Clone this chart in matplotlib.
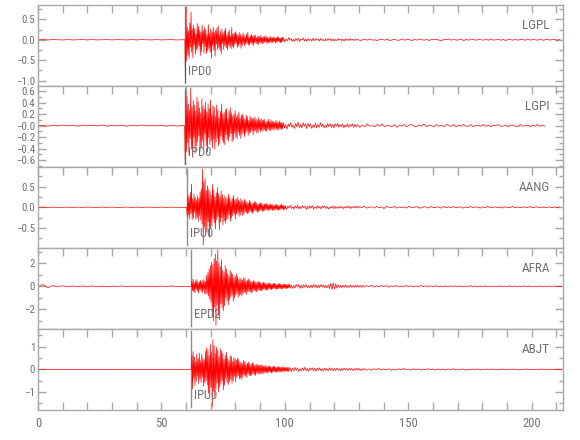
import numpy as np
import matplotlib
matplotlib.use('Agg')
import matplotlib.pyplot as plt
import matplotlib.font_manager as fm
from matplotlib.ticker import MultipleLocator, FixedLocator

# ---------- pick a narrow sans font if one is installed ----------
_names = {f.name for f in fm.fontManager.ttflist}
FONT, STRETCH, NARROW = 'DejaVu Sans', 'normal', False
for cand in ['Liberation Sans Narrow', 'Roboto Condensed', 'Open Sans Condensed',
             'DejaVu Sans Condensed', 'Noto Sans Condensed']:
    if cand in _names:
        FONT, NARROW = cand, True
        break
if not NARROW:
    for f in fm.fontManager.ttflist:
        if str(f.stretch) in ('condensed', 'semi-condensed', 'extra-condensed') and \
                f.name in ('DejaVu Sans', 'Noto Sans', 'Open Sans', 'Roboto', 'Liberation Sans'):
            FONT, STRETCH, NARROW = f.name, str(f.stretch), True
            break
plt.rcParams['font.family'] = [FONT, 'DejaVu Sans']
plt.rcParams['font.stretch'] = STRETCH
SZ = 1.0 if NARROW else 0.86

stations = ['LGPL', 'LGPI', 'AANG', 'AFRA', 'ABJT']
pick_times = [59.5, 59.4, 60.2, 62.1, 62.1]
pick_labels = ['IPD0', 'IPD0', 'IPU0', 'EPD2', 'IPU0']

# sample spacing (s) of each stored segment
PRE_DT, FINE_DT, MID_DT, TAIL_DT = 2.0, 0.25, 0.5, 1.0
FINE_LEN, MID_LEN = 40.0, 30.0
SCALE = 0.01  # values stored in hundredths

# ---------------- LGPL ----------------
pre_lgpl = [0, 0.5, -0.5, 0.5, 0, -0.5, 0.5, -0.5, 0, 0.5, -0.5, 0.5, -0.5, 0, 0.5,
            -0.5, 0.5, 0, -0.5, 0.5, -0.5, 0.5, 0, -0.5, 0.5, -0.5, 0, 0.5, -0.5, 0]
fine_lgpl = [0, -105, 80, -52, 30, -38, 22, -45, 41, -18, 68, -30, 26, -44, 35, -12,
             28, -36, 14, -25, 40, -21, 33, -15, 24, -38, 19, -29, 36, -10, 22, -33,
             30, -17, 25, -34, 12, -28, 37, -22, 16, -30, 27, -45, 20, -14, 31, -26,
             18, -40, 24, -11, 29, -23, 34, -19, 13, -27, 21, -35, 26, -9, 17, -24,
             22, -15, 28, -20, 11, -25, 19, -13, 24, -18, 9, -22, 30, -16, 14, -21,
             17, -12, 20, -8, 15, -19, 11, -16, 18, -10, 13, -21, 8, -14, 16, -9,
             12, -15, 7, -11, 14, -9, 18, -13, 6, -12, 10, -8, 13, -11, 9, -14,
             11, -7, 12, -9, 5, -10, 8, -12, 9, -6, 11, -8, 7, -10, 6, -9,
             8, -6, 10, -5, 7, -9, 6, -8, 4, -7, 9, -5, 6, -8, 5, -7,
             7, -4, 6, -8, 5, -6, 8, -4, 6, -5, 4, -7, 5, -6, 7, -4]
mid_lgpl = [4, -5, 2, -3, 5, -1, 3, -4, 1, -3, 4, -2, 3, -4, 2, -1, 4, -3, 2, -4,
            3, -2, 1, -3, 4, -2, 3, -1, 2, -3, 3, -2, 1, -3, 2, -2, 3, -1, 2, -3,
            2, -3, 1, -2, 3, -1, 2, -2, 1, -3, 2, -1, 2, -2, 3, -1, 1, -2, 2, -1]
tail_lgpl = [1, -2, 0, 1, -1, 2, -1, 0, -2, 1, 1, -1, 2, -2, 0, 1, -1, -1, 2, -1,
             1, 0, -2, 1, -1, 2, 0, -1, 1, -2, 1, 0, 1, -1, -2, 1, 0, 2, -1, 1,
             -1, 0, 1, -2, 1, -1, 2, 0, -1, 1, 0, -1, 1, -1, 2, -1, 0, 1, -1, 1,
             -2, 1, 0, -1, 1, -1, 1, 0, -1, 2, -1, 1, 0, -1, 1, -1, 0, 1, -1, 1,
             0, -1, 1]

# ---------------- LGPI ----------------
pre_lgpi = [0, 0.5, -1, 0.5, -0.5, 1, -0.5, 0.5, -1, 1, -0.5, 0.5, -0.5, 1, -1,
            0.5, -0.5, 0.5, -1, 0.5, -0.5, 1, -0.5, 0.5, -0.5, 0.5, -1, 0.5, -0.5, 0]
fine_lgpi = [0, -68, 60, -45, 52, -30, 38, -50, 27, -22, 66, -41, 33, -55, 44, -20,
             36, -48, 25, -35, 50, -28, 42, -18, 31, -44, 22, -38, 47, -26, 34, -40,
             29, -15, 41, -36, 24, -46, 38, -21, 30, -33, 45, -27, 19, -39, 35, -24,
             32, -41, 17, -29, 36, -22, 27, -35, 14, -31, 25, -18, 38, -26, 20, -30,
             23, -33, 28, -16, 30, -24, 12, -27, 26, -19, 31, -14, 22, -28, 17, -25,
             21, -13, 26, -20, 15, -23, 19, -11, 24, -17, 13, -22, 18, -15, 20, -12,
             16, -19, 11, -14, 18, -10, 15, -17, 9, -13, 17, -12, 14, -9, 12, -16,
             13, -10, 15, -8, 11, -13, 9, -12, 14, -7, 10, -11, 12, -8, 9, -10,
             10, -7, 11, -9, 6, -10, 8, -6, 11, -8, 7, -9, 10, -6, 8, -7,
             7, -8, 6, -5, 9, -6, 7, -8, 5, -7, 8, -5, 6, -7, 5, -6]
mid_lgpi = [5, -4, 2, -6, 3, -2, 5, -3, 1, -5, 4, -2, 6, -3, 2, -4, 5, -1, 3, -5,
            4, -2, 3, -5, 1, -3, 4, -4, 2, -3, 5, -2, 3, -4, 1, -3, 4, -2, 3, -3,
            2, -4, 3, -1, 4, -3, 2, -2, 3, -4, 1, -2, 3, -3, 2, -1, 3, -3, 2, -2]
tail_lgpi = [2, -3, 1, -2, 3, -1, 0, -2, 2, -1, 3, -2, 1, 0, -2, 2, -3, 1, -1, 2,
             -2, 1, 2, -1, -2, 1, -1, 3, -2, 1, 0, -2, 2, -1, 1, -2, 2, 0, -1, 2,
             -2, 1, -1, 2, -1, -1, 2, -2, 1, 0, -1, 2, -1, 1, -2, 1, 0, 2, -1, -1,
             1, -2, 1, 1, -1, -2, 2, -1, 0, 1, -2, 1, -1, 2, -1, 1, -1]

# ---------------- AANG ----------------
pre_aang = [0, 0.5, -0.5, 0.5, -0.5, 0, 0.5, -0.5, 0.5, -0.5, 0.5, 0, -0.5, 0.5,
            -0.5, 0.5, -0.5, 0, 0.5, -0.5, 0.5, -0.5, 0.5, 0, -0.5, 0.5, -0.5, 0.5, -0.5, 0]
fine_aang = [0, -22, 30, -18, 25, -28, 35, -15, 56, -30, 20, -26, 32, -12, 24, -29,
             18, -25, 28, -34, 22, -20, 38, -30, 45, -40, 92, -91, 62, -48, 70, -55,
             40, -60, 52, -35, 44, -72, 38, -50, 30, -45, 55, -28, 42, -38, 25, -52,
             35, -30, 48, -22, 33, -55, 27, -36, 40, -25, 30, -42, 21, -33, 28, -38,
             24, -30, 19, -27, 32, -18, 25, -34, 15, -26, 22, -20, 28, -16, 18, -29,
             20, -17, 24, -13, 18, -22, 15, -19, 21, -12, 16, -20, 13, -17, 19, -11,
             15, -13, 12, -16, 10, -14, 17, -9, 13, -12, 8, -15, 11, -10, 14, -8,
             12, -9, 10, -12, 7, -11, 9, -8, 11, -7, 10, -9, 6, -10, 8, -7,
             8, -7, 9, -5, 7, -8, 6, -7, 8, -5, 6, -8, 7, -6, 5, -7,
             6, -5, 7, -6, 5, -7, 4, -6, 6, -5, 7, -4, 5, -6, 4, -5]
mid_aang = [4, -5, 3, -2, 5, -3, 1, -4, 3, -2, 5, -4, 2, -3, 4, -1, 3, -5, 2, -3,
            4, -2, 3, -4, 1, -3, 4, -2, 2, -4, 3, -1, 3, -3, 2, -4, 1, -2, 3, -3,
            2, -3, 1, -2, 3, -2, 2, -3, 1, -2, 3, -1, 2, -3, 2, -1, 2, -2, 3, -2]
tail_aang = [2, -1, 3, -2, 0, 1, -2, 2, -1, 1, -3, 2, 0, -1, 2, -2, 1, -1, 1, -2,
             2, 0, -1, 2, -1, -2, 1, 1, -2, 2, -1, 0, 1, -2, 2, -1, 1, -1, 2, -1,
             0, 1, -2, 1, -1, 2, -1, 1, 0, -2, 1, -1, 2, -1, 0, 1, -1, 1, -2, 1,
             0, -1, 2, -1, 1, -1, 0, 1, -1, 2, -1, 0, 1, -1, 1, -1, 0, 1, -1, 1,
             -1, 1]

# ---------------- AFRA ----------------
pre_afra = [0, 15, -12, 6, -5, 4, -4, 3, -3, 3, -2, 3, -2, 2, -3, 2, -2, 3, -2, 2,
            -2, 2, -3, 2, -2, 2, -2, 3, -2, 0]
fine_afra = [0, 45, -38, 62, -50, 30, -55, 48, -25, 58, -42, 35, -60, 40, -30, 52,
             -45, 38, -55, 60, -32, 48, -65, 42, -70, 95, -60, 120, -85, 150, -110, 180,
             -140, 210, -260, 190, -300, 240, -180, 280, -340, 220, -160, 320, -250, 200, -290, 170,
             -150, 230, -190, 140, -210, 120, -170, 180, -100, 150, -130, 110, -160, 90, -120, 140,
             -95, 120, -80, 105, -130, 70, -100, 90, -75, 110, -65, 85, -95, 60, -80, 75,
             -70, 60, -85, 55, -65, 75, -50, 68, -58, 45, -72, 52, -48, 63, -40, 55,
             -50, 42, -58, 38, -45, 50, -35, 44, -40, 36, -48, 30, -38, 42, -32, 40,
             -36, 30, -40, 28, -33, 35, -25, 32, -30, 26, -34, 22, -28, 30, -24, 27,
             -26, 22, -30, 20, -24, 27, -18, 25, -22, 19, -26, 17, -23, 21, -19, 24,
             -20, 18, -23, 16, -21, 19, -15, 20, -18, 14, -21, 16, -17, 19, -14, 18]
mid_afra = [-16, 12, -19, 8, -14, 17, -6, 13, -18, 10, -15, 14, -9, 16, -12, 7, -15, 11, -13, 17,
            -8, 14, -16, 10, -12, 15, -7, 13, -11, 9, -14, 12, -20, 24, -28, 30, -25, 22, -17, 13,
            -12, 9, -14, 10, -8, 12, -11, 7, -10, 11, -9, 6, -10, 9, -7, 10, -8, 6, -9, 8]
tail_afra = [-8, 6, -3, 9, -7, 4, -5, 8, -2, 6, -8, 5, -4, 7, -6, 2, -5, 7, -4, 6,
             -7, 3, -5, 6, -2, 5, -6, 4, -3, 6, -5, 2, -4, 5, -6, 3, -2, 5, -4, 4,
             -5, 2, -4, 6, -3, 4, -5, 3, -2, 4, -4, 3, -5, 2, -3, 4, -4, 2, -3, 5,
             -3, 3, -4, 2, -3, 4, -2, 3, -4, 1, -3, 4, -3, 2, -3, 3, -2, 3, -3, 2,
             -3]

# ---------------- ABJT ----------------
pre_abjt = [0, 0.5, -0.5, 0.5, -0.5, 0.5, 0, -0.5, 0.5, -0.5, 0.5, -0.5, 0, 0.5,
            -0.5, 0.5, -0.5, 0.5, 0, -0.5, 0.5, -0.5, 0.5, -0.5, 0, 0.5, -0.5, 0.5, -0.5, 0]
fine_abjt = [0, 62, -85, 78, -40, 55, -70, 35, -52, 68, -30, 48, -62, 72, -45, 38,
             -58, 66, -35, 50, -74, 42, -60, 80, -50, 95, -70, 88, -105, 60, -92, 110,
             -80, 75, -165, 132, -95, 105, -120, 70, -88, 98, -60, 85, -100, 55, -78, 92,
             -65, 80, -50, 72, -90, 45, -70, 62, -40, 75, -58, 48, -66, 38, -55, 60,
             -45, 58, -62, 35, -50, 52, -30, 46, -55, 40, -36, 50, -28, 44, -42, 33,
             -38, 30, -44, 26, -33, 40, -24, 35, -30, 22, -36, 28, -20, 32, -27, 25,
             -29, 22, -26, 30, -19, 25, -23, 18, -27, 21, -16, 24, -20, 17, -22, 19,
             -18, 21, -15, 19, -20, 14, -17, 16, -13, 18, -15, 12, -17, 14, -11, 16,
             -14, 12, -16, 11, -13, 15, -10, 13, -12, 9, -14, 11, -9, 13, -11, 10,
             -12, 9, -10, 12, -8, 11, -10, 8, -11, 9, -7, 10, -9, 8, -10, 7]
mid_abjt = [8, -10, 5, -7, 9, -4, 6, -9, 3, -8, 7, -5, 9, -6, 4, -8, 6, -3, 7, -7,
            5, -8, 6, -4, 7, -6, 3, -7, 6, -5, 4, -6, 7, -3, 5, -6, 4, -5, 6, -4,
            3, -6, 5, -4, 6, -3, 4, -5, 5, -2, 4, -5, 3, -4, 5, -3, 4, -4, 3, -4]
tail_abjt = [4, -3, 2, -4, 3, -1, 4, -3, 2, -2, 3, -4, 1, -3, 3, -2, 4, -2, 1, -3,
             3, -2, 2, -3, 1, -2, 3, -1, 2, -3, 2, -2, 1, -3, 2, -1, 3, -2, 1, -2,
             2, -3, 1, -2, 2, -1, 2, -2, 1, -2, 2, -1, 2, -2, 0, -1, 2, -2, 1, -1,
             2, -1, 1, -2, 1, -1, 2, -1, 0, -2, 1, -1, 2, -1, 1, -1, 1, -2, 1, -1,
             1]

pres = [pre_lgpl, pre_lgpi, pre_aang, pre_afra, pre_abjt]
fines = [fine_lgpl, fine_lgpi, fine_aang, fine_afra, fine_abjt]
mids = [mid_lgpl, mid_lgpi, mid_aang, mid_afra, mid_abjt]
tails = [tail_lgpl, tail_lgpi, tail_aang, tail_afra, tail_abjt]

ylims = [(-1.13, 0.85), (-0.72, 0.69), (-0.98, 0.97), (-3.71, 3.33), (-1.79, 1.78)]
yminor = [0.25, 0.1, 0.25, 1.0, 0.5]
ytick_vals = [[-1.0, -0.5, 0.0, 0.5],
              [-0.6, -0.4, -0.2, 0.0, 0.2, 0.4, 0.6],
              [-0.5, 0.0, 0.5],
              [-2, 0, 2],
              [-1, 0, 1]]
ytick_text = [['\u22121.0', '\u22120.5', '0.0', '0.5'],
              ['\u22120.6', '\u22120.4', '\u22120.2', '\u22120.0', '0.2', '0.4', '0.6'],
              ['\u22120.5', '0.0', '0.5'],
              ['\u22122', '0', '2'],
              ['\u22121', '0', '1']]
xtick_vals = [0, 50, 100, 150, 200]

XMAX = 212.7
TEXT_C = '#707070'
SPINE_C = '#a8a8a8'
TRACE_C = '#ff0000'
PICK_C = '#8c8c8c'

fig = plt.figure(figsize=(5.8, 4.4), dpi=100)
left, right = 38 / 580, 563 / 580
top_px, h_px = 5, 81

for i in range(5):
    y0 = 1 - (top_px + h_px * (i + 1)) / 440
    ax = fig.add_axes([left, y0, right - left, h_px / 440])
    p = pick_times[i]
    segs = [np.array(pres[i], float), np.array(fines[i], float),
            np.array(mids[i], float), np.array(tails[i], float)]
    t = np.concatenate([np.arange(len(segs[0])) * PRE_DT,
                        p + np.arange(len(segs[1])) * FINE_DT,
                        p + FINE_LEN + np.arange(len(segs[2])) * MID_DT,
                        p + FINE_LEN + MID_LEN + np.arange(len(segs[3])) * TAIL_DT])
    y = np.concatenate(segs) * SCALE
    ax.axvline(p, ymin=0.04, ymax=0.97, color=PICK_C, lw=1.0, zorder=1)
    ax.plot(t, y, color=TRACE_C, lw=0.5, zorder=2)
    ax.set_xlim(0, XMAX)
    ax.set_ylim(*ylims[i])

    ax.text(0.975, 0.75, stations[i], transform=ax.transAxes, ha='right',
            va='center', fontsize=9.5 * SZ, color=TEXT_C)
    ax.text(p + 1.3, ylims[i][0] + 0.18 * (ylims[i][1] - ylims[i][0]),
            pick_labels[i], ha='left', va='center', fontsize=9 * SZ, color=TEXT_C)

    for s in ax.spines.values():
        s.set_color(SPINE_C)
        s.set_linewidth(1.0)

    ax.yaxis.set_major_locator(FixedLocator(ytick_vals[i]))
    ax.set_yticklabels(ytick_text[i])
    ax.yaxis.set_minor_locator(MultipleLocator(yminor[i]))
    ax.xaxis.set_major_locator(MultipleLocator(50))
    ax.xaxis.set_minor_locator(MultipleLocator(10))

    last = (i == 4)
    ax.tick_params(axis='y', which='both', direction='in', left=True, right=True,
                   colors=SPINE_C, labelcolor=TEXT_C, labelsize=7.8 * SZ, pad=2)
    ax.tick_params(axis='y', which='major', length=6, width=1)
    ax.tick_params(axis='y', which='minor', length=3, width=1)
    ax.tick_params(axis='x', which='both', direction='in', top=True, bottom=last,
                   labelbottom=last, length=5.5, width=1, colors=SPINE_C,
                   labelcolor=TEXT_C, labelsize=9 * SZ, pad=5)
    if last:
        ax.set_xticks(xtick_vals)
        ax.set_xticklabels([str(v) for v in xtick_vals])

fig.savefig('out.png', dpi=100)
